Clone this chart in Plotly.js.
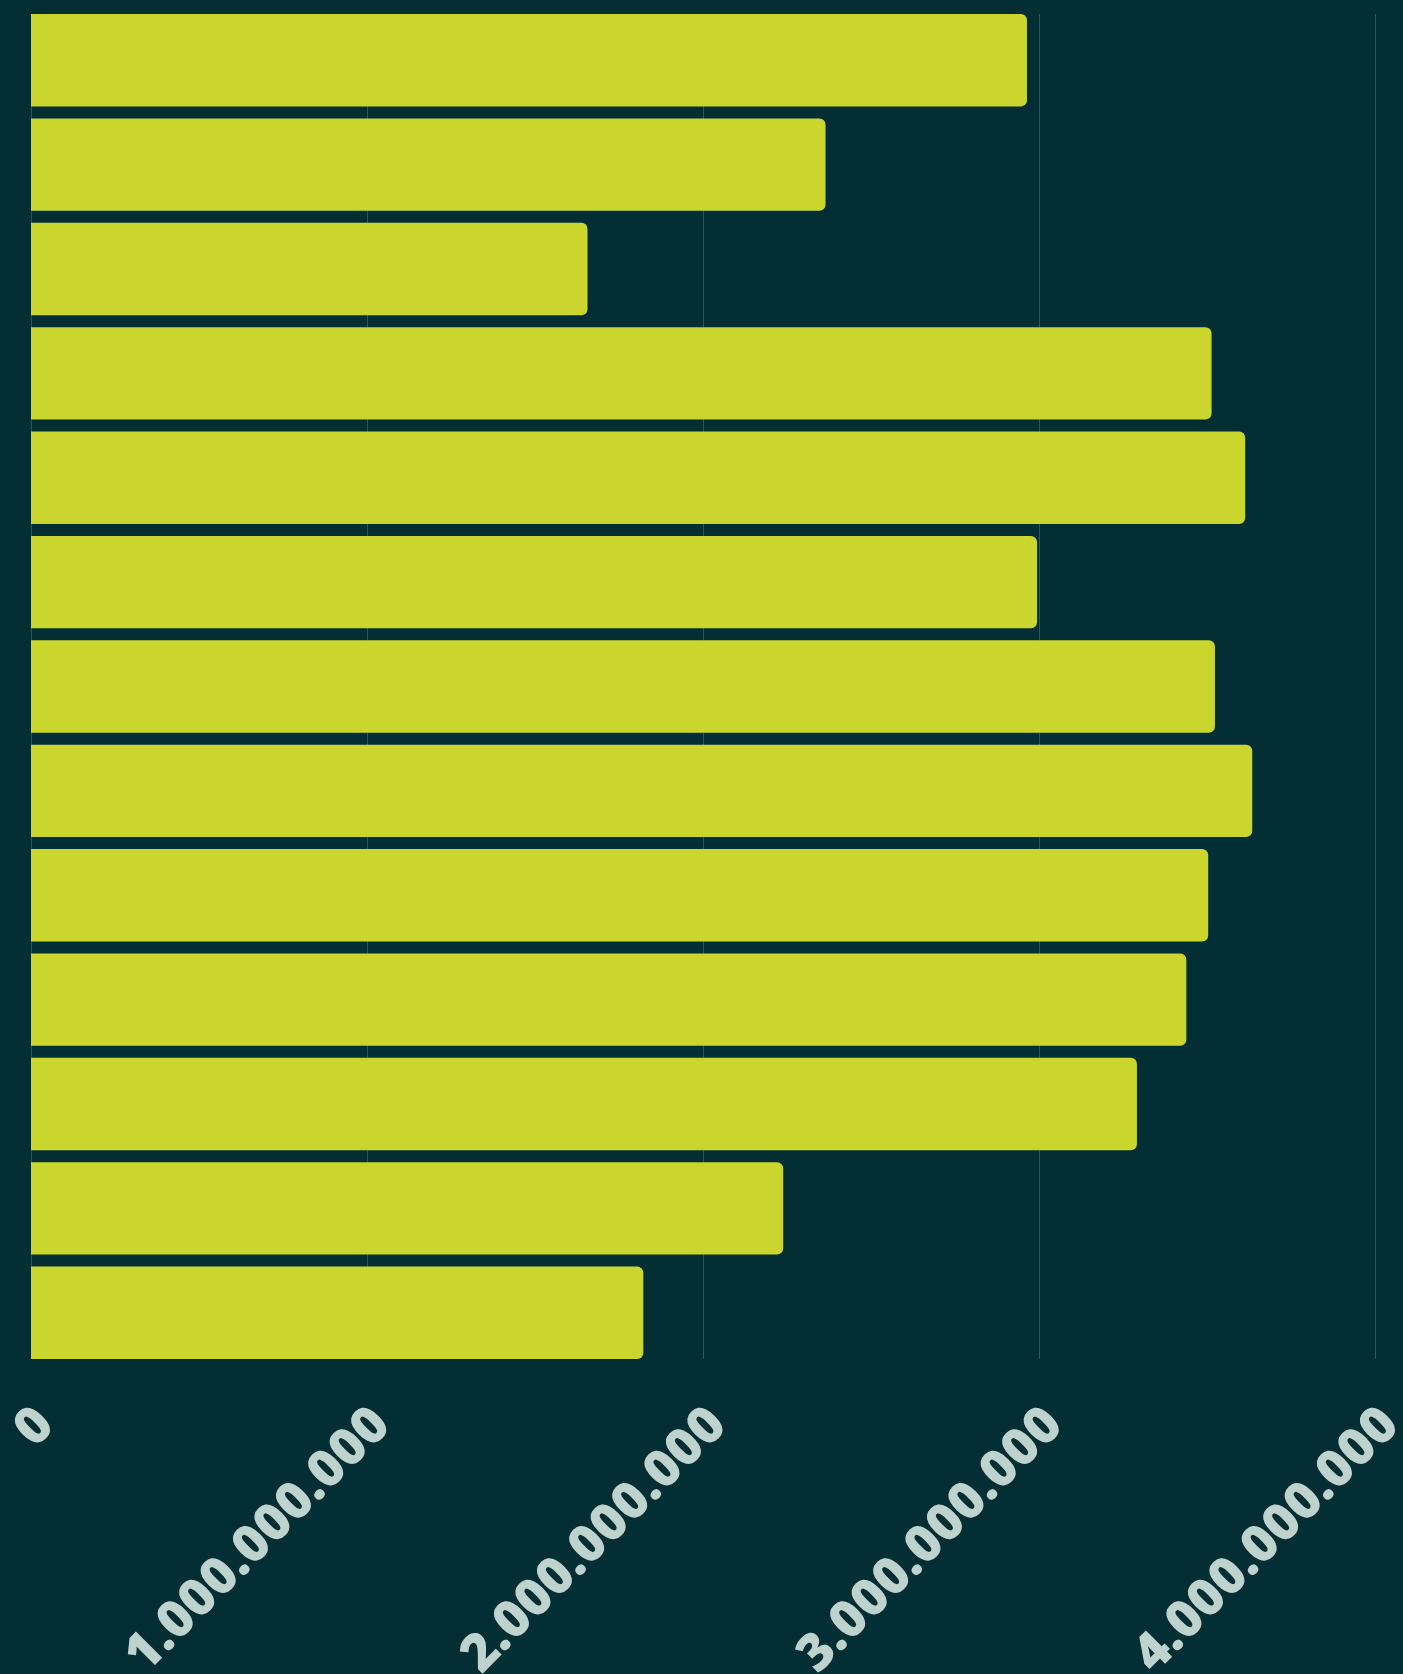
<!DOCTYPE html>
<html>
<head>
<meta charset="utf-8">
<script src="https://cdn.plot.ly/plotly-3.0.1.min.js"></script>
<style>
  html, body { margin: 0; padding: 0; background: #022e34; }
  #chart { width: 1403px; height: 1674px; }
</style>
</head>
<body>
<div id="chart"></div>
<script>
// Categories (no category labels are shown in the chart)
const categories = ["1", "2", "3", "4", "5", "6", "7", "8", "9", "10", "11", "12", "13"];
// Bar values
const values = [2962000000, 2363000000, 1655000000, 3511000000, 3611000000, 2992000000,
                3521000000, 3632000000, 3501000000, 3436000000, 3289000000, 2237000000, 1821000000];
// X axis ticks
const xTickVals = [0, 1000000000, 2000000000, 3000000000, 4000000000];

const trace = {
  type: "bar",
  orientation: "h",
  x: values,
  y: categories,
  marker: { color: "#cad62e", cornerradius: 6 },
  hoverinfo: "x"
};

const layout = {
  width: 1403,
  height: 1674,
  paper_bgcolor: "#022e34",
  plot_bgcolor: "#022e34",
  separators: ",.",
  margin: { l: 31, r: 26, t: 14, b: 315, autoexpand: false },
  bargap: 0.115,
  showlegend: false,
  xaxis: {
    range: [0, 4003000000],
    tickvals: xTickVals,
    tickformat: ",d",
    tickangle: -45,
    ticklabeloverflow: "allow",
    ticklabelstandoff: 23,
    ticklabelshift: 7,
    showgrid: true,
    gridcolor: "#2d555b",
    gridwidth: 1,
    zeroline: true,
    zerolinecolor: "#2d555b",
    zerolinewidth: 1,
    showline: false,
    ticks: "",
    tickfont: { family: "Open Sans", size: 52, color: "#bed2ce", weight: 800 }
  },
  yaxis: {
    type: "category",
    range: [12.4425, -0.4425],
    showticklabels: false,
    showgrid: false,
    zeroline: false,
    ticks: ""
  }
};

Plotly.newPlot("chart", [trace], layout, { displayModeBar: false, staticPlot: true });
</script>
</body>
</html>
